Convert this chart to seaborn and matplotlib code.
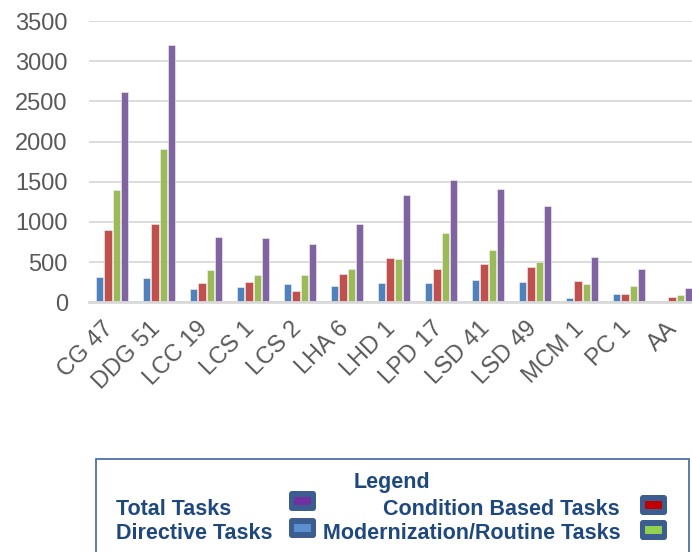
import numpy as np
import pandas as pd
import matplotlib
matplotlib.use("Agg")
import matplotlib.pyplot as plt
import seaborn as sns
from matplotlib.patches import FancyBboxPatch, Rectangle
from matplotlib.transforms import IdentityTransform, ScaledTranslation

ships = ['CG 47', 'DDG 51', 'LCC 19', 'LCS 1', 'LCS 2', 'LHA 6', 'LHD 1',
         'LPD 17', 'LSD 41', 'LSD 49', 'MCM 1', 'PC 1', 'AA']
directive = [311, 303, 170, 190, 228, 203, 236, 236, 278, 253, 54, 100, 16]
condition = [900, 979, 240, 257, 145, 352, 552, 418, 477, 436, 269, 103, 66]
modernization = [1398, 1909, 398, 340, 336, 415, 539, 863, 647, 502, 228, 207, 91]
total = [2619, 3200, 813, 797, 726, 971, 1332, 1523, 1411, 1199, 560, 418, 174]

series_names = ['Directive Tasks', 'Condition Based Tasks',
                'Modernization/Routine Tasks', 'Total Tasks']
bar_colors = ['#4f81bd', '#c0504d', '#9bbb59', '#8064a2']

df = pd.DataFrame({'ship': ships, series_names[0]: directive,
                   series_names[1]: condition, series_names[2]: modernization,
                   series_names[3]: total})
long_df = df.melt(id_vars='ship', var_name='type', value_name='tasks')

sns.set_style('white')
plt.rcParams['font.family'] = ['Liberation Sans', 'DejaVu Sans']

W, H = 692, 552
fig = plt.figure(figsize=(W / 100, H / 100), dpi=100)
ax = fig.add_axes([88.7 / W, 1 - 302.3 / H, 611 / W, 281.3 / H])

sns.barplot(data=long_df, x='ship', y='tasks', hue='type', hue_order=series_names,
            palette=bar_colors, saturation=1, width=0.71, gap=0.12, errorbar=None,
            edgecolor='#f4f4f4', linewidth=0.4, legend=False, ax=ax)

ax.set_xlim(-0.5, len(ships) - 0.5)
ax.set_ylim(0, 3500)
ax.set_yticks(np.arange(0, 3501, 500))
ax.set_xlabel('')
ax.set_ylabel('')
ax.yaxis.grid(True, color='#d9d9d9', linewidth=1.3)
ax.set_axisbelow(True)
for s in ['top', 'right', 'left']:
    ax.spines[s].set_visible(False)
ax.spines['bottom'].set_color('#d9d9d9')
ax.spines['bottom'].set_linewidth(2)
ax.tick_params(axis='both', length=0, labelsize=17, labelcolor='#595959')
ax.tick_params(axis='y', pad=15)
ax.tick_params(axis='x', pad=11)
shift = ScaledTranslation(6 / 100, 0, fig.dpi_scale_trans)
for lab in ax.get_xticklabels():
    lab.set_rotation(45)
    lab.set_ha('right')
    lab.set_transform(lab.get_transform() + shift)

# legend box drawn by hand, coordinates in image pixels (top-left origin)
px = IdentityTransform()


def fy(y):
    return H - y


fig.patches.append(Rectangle((96, fy(600)), 593, 141, transform=px, facecolor='white',
                             edgecolor='#4f72a6', linewidth=1.3))
text_color = '#1f497d'
fsz = 15.5
fig.text(392, fy(488), 'Legend', transform=px, ha='center', va='baseline',
         fontsize=fsz, fontweight='bold', color=text_color)
fig.text(116, fy(515), 'Total Tasks', transform=px, ha='left', va='baseline',
         fontsize=fsz, fontweight='bold', color=text_color)
fig.text(116, fy(539), 'Directive Tasks', transform=px, ha='left', va='baseline',
         fontsize=fsz, fontweight='bold', color=text_color)
fig.text(620, fy(515), 'Condition Based Tasks', transform=px, ha='right', va='baseline',
         fontsize=fsz, fontweight='bold', color=text_color)
fig.text(621, fy(539), 'Modernization/Routine Tasks', transform=px, ha='right',
         va='baseline', fontsize=fsz, fontweight='bold', color=text_color)

swatches = [(289, 491, '#7030a0'), (289, 518, '#5b8fd0'),
            (640, 495, '#c00000'), (640, 520, '#92d050')]
for sx, sy, c in swatches:
    fig.patches.append(FancyBboxPatch((sx, fy(sy + 20)), 27, 20, transform=px,
                                      boxstyle='round,pad=0,rounding_size=3',
                                      facecolor='#3b5d8f', edgecolor='none'))
    fig.patches.append(Rectangle((sx + 5, fy(sy + 14)), 17, 8, transform=px,
                                 facecolor=c, edgecolor='none'))

fig.savefig('out.png', dpi=100)
